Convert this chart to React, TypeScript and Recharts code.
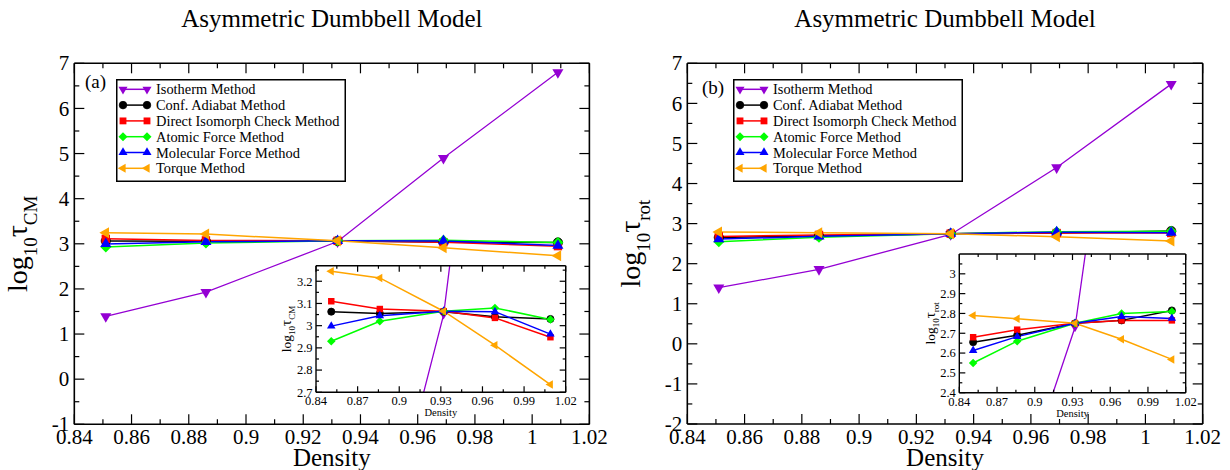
import React from 'react';
import { LineChart, Line, XAxis, YAxis, Legend } from 'recharts';

const FONT = '"Liberation Serif", "Times New Roman", serif';

// densities shared by every series
const density = [0.851, 0.886, 0.932, 0.969, 1.009];

// panel (a): log10 tau_CM
const cmIsotherm = [1.39, 1.93, 3.05, 4.9, 6.8];
const cmAdiabat = [3.063, 3.055, 3.063, 3.04, 3.03];
const cmDirect = [3.11, 3.075, 3.065, 3.035, 2.948];
const cmAtomic = [2.93, 3.02, 3.065, 3.08, 3.028];
const cmMolecular = [2.998, 3.045, 3.065, 3.063, 2.962];
const cmTorque = [3.245, 3.215, 3.065, 2.912, 2.735];

// panel (b): log10 tau_rot
const rotIsotherm = [1.4, 1.86, 2.73, 4.4, 6.48];
const rotAdiabat = [2.655, 2.69, 2.75, 2.765, 2.815];
const rotDirect = [2.68, 2.718, 2.75, 2.765, 2.765];
const rotAtomic = [2.55, 2.66, 2.75, 2.8, 2.81];
const rotMolecular = [2.613, 2.683, 2.75, 2.785, 2.775];
const rotTorque = [2.79, 2.773, 2.75, 2.67, 2.568];

const seriesKeys = ['iso', 'adi', 'dir', 'ato', 'mol', 'tor'];
const seriesNames = [
  'Isotherm Method',
  'Conf. Adiabat Method',
  'Direct Isomorph Check Method',
  'Atomic Force Method',
  'Molecular Force Method',
  'Torque Method',
];
const seriesColors = ['#9400D3', '#000000', '#FF0000', '#00FF00', '#0000FF', '#FFA500'];
const seriesShapes = ['down', 'circle', 'square', 'diamond', 'up', 'left'];

// ticks
const mainXMajor = [0.84, 0.86, 0.88, 0.9, 0.92, 0.94, 0.96, 0.98, 1, 1.02];
const mainXMinor = [0.85, 0.87, 0.89, 0.91, 0.93, 0.95, 0.97, 0.99, 1.01];
const cmYMajor = [-1, 0, 1, 2, 3, 4, 5, 6, 7];
const cmYMinor = [-0.5, 0.5, 1.5, 2.5, 3.5, 4.5, 5.5, 6.5];
const rotYMajor = [-2, -1, 0, 1, 2, 3, 4, 5, 6, 7];
const rotYMinor = [-1.5, -0.5, 0.5, 1.5, 2.5, 3.5, 4.5, 5.5, 6.5];
const insetXMajor = [0.84, 0.87, 0.9, 0.93, 0.96, 0.99, 1.02];
const insetXMinor = [0.855, 0.885, 0.915, 0.945, 0.975, 1.005];
const insetCmYMajor = [2.7, 2.8, 2.9, 3, 3.1, 3.2];
const insetCmYMinor = [2.75, 2.85, 2.95, 3.05, 3.15, 3.25];
const insetRotYMajor = [2.4, 2.5, 2.6, 2.7, 2.8, 2.9, 3];
const insetRotYMinor = [2.45, 2.55, 2.65, 2.75, 2.85, 2.95, 3.05];

function buildRows(values: number[][]) {
  return density.map((d, i) => {
    const row: Record<string, number> = { d };
    seriesKeys.forEach((k, j) => {
      row[k] = values[j][i];
    });
    return row;
  });
}

const cmRows = buildRows([cmIsotherm, cmAdiabat, cmDirect, cmAtomic, cmMolecular, cmTorque]);
const rotRows = buildRows([rotIsotherm, rotAdiabat, rotDirect, rotAtomic, rotMolecular, rotTorque]);

const fmt = (v: number) => String(Math.round(v * 1000) / 1000);

function Marker({ shape, cx, cy, size, color }: any) {
  if (cx == null || cy == null) return null;
  if (shape === 'circle') {
    return <circle cx={cx} cy={cy} r={size * 0.42} fill={color} stroke={color} strokeWidth={0.8} />;
  }
  if (shape === 'square') {
    const h = size * 0.38;
    return <rect x={cx - h} y={cy - h} width={2 * h} height={2 * h} fill={color} />;
  }
  if (shape === 'diamond') {
    const h = size * 0.5;
    return <polygon points={`${cx},${cy - h} ${cx + h},${cy} ${cx},${cy + h} ${cx - h},${cy}`} fill={color} />;
  }
  const a0 = shape === 'up' ? -90 : shape === 'down' ? 90 : 180;
  const R = size * 0.58;
  const pts = [0, 120, 240]
    .map((da) => {
      const a = ((a0 + da) * Math.PI) / 180;
      return `${cx + R * Math.cos(a)},${cy + R * Math.sin(a)}`;
    })
    .join(' ');
  return <polygon points={pts} fill={color} />;
}

function tickFn(side: string, majors: number[], major: number, minor: number, font = 0, gap = 0) {
  return (p: any) => {
    const v = p.payload.value;
    const isMajor = majors.some((m) => Math.abs(m - v) < 1e-9);
    const len = isMajor ? major : minor;
    const { x, y } = p;
    let x2 = x;
    let y2 = y;
    if (side === 'bottom') y2 = y - len;
    else if (side === 'top') y2 = y + len;
    else if (side === 'left') x2 = x + len;
    else x2 = x - len;
    const label = font && isMajor ? fmt(v) : null;
    return (
      <g>
        <line x1={x} y1={y} x2={x2} y2={y2} stroke="#000" strokeWidth={1.2} />
        {label && side === 'bottom' && (
          <text x={x} y={y + gap} textAnchor="middle" fontSize={font} fontFamily={FONT} fill="#000">
            {label}
          </text>
        )}
        {label && side === 'left' && (
          <text x={x - gap} y={y + font * 0.34} textAnchor="end" fontSize={font} fontFamily={FONT} fill="#000">
            {label}
          </text>
        )}
      </g>
    );
  };
}

// axes are kept (almost) zero-sized so the chart margin alone sets the plot box
const THIN = 0.01;

function frame(cfg: any) {
  const { xMajor, xMinor, yMajor, yMinor, yDomain, major, minor, font, xGap, yGap, sw } = cfg;
  const xTicks = [...xMajor, ...xMinor];
  const yTicks = [...yMajor, ...yMinor];
  const line = { stroke: '#000', strokeWidth: sw };
  const xDomain = [0.84, 1.02];
  return [
    <XAxis key="xb" xAxisId={0} dataKey="d" type="number" domain={xDomain} allowDataOverflow ticks={xTicks}
      interval={0} height={THIN} tickLine={false} tickSize={0} tickMargin={0} axisLine={line}
      tick={tickFn('bottom', xMajor, major, minor, font, xGap)} />,
    <XAxis key="xt" xAxisId="top" orientation="top" dataKey="d" type="number" domain={xDomain} allowDataOverflow
      ticks={xTicks} interval={0} height={THIN} tickLine={false} tickSize={0} tickMargin={0} axisLine={line}
      tick={tickFn('top', xMajor, major, minor)} />,
    <YAxis key="yl" yAxisId={0} type="number" domain={yDomain} allowDataOverflow ticks={yTicks} interval={0}
      width={THIN} tickLine={false} tickSize={0} tickMargin={0} axisLine={line}
      tick={tickFn('left', yMajor, major, minor, font, yGap)} />,
    <YAxis key="yr" yAxisId="right" orientation="right" type="number" domain={yDomain} allowDataOverflow
      ticks={yTicks} interval={0} width={THIN} tickLine={false} tickSize={0} tickMargin={0} axisLine={line}
      tick={tickFn('right', yMajor, major, minor)} />,
  ];
}

function seriesLines(size: number) {
  return seriesKeys.map((k, i) => (
    <Line
      key={k}
      xAxisId={0}
      yAxisId={0}
      type="linear"
      dataKey={k}
      name={seriesNames[i]}
      stroke={seriesColors[i]}
      strokeWidth={i === 0 ? 1.3 : 1.5}
      isAnimationActive={false}
      activeDot={false}
      dot={(p: any) => (
        <Marker key={`${k}-${p.index}`} shape={seriesShapes[i]} cx={p.cx} cy={p.cy} size={size} color={seriesColors[i]} />
      )}
    />
  ));
}

function LegendBox({ payload }: any) {
  const items = [...(payload || [])].sort(
    (a: any, b: any) => seriesKeys.indexOf(a.dataKey) - seriesKeys.indexOf(b.dataKey),
  );
  return (
    <svg width={230} height={103} style={{ display: 'block' }}>
      <rect x={0.75} y={0.75} width={228.5} height={101.5} fill="#fff" stroke="#000" strokeWidth={1.5} />
      {items.map((p: any, i: number) => {
        const idx = seriesKeys.indexOf(p.dataKey);
        const cy = 10.3 + i * 15.8;
        const color = seriesColors[idx];
        return (
          <g key={p.dataKey}>
            <line x1={7} y1={cy} x2={31} y2={cy} stroke={color} strokeWidth={1.5} />
            <Marker shape={seriesShapes[idx]} cx={7} cy={cy} size={9} color={color} />
            <Marker shape={seriesShapes[idx]} cx={31} cy={cy} size={9} color={color} />
            <text x={40} y={cy + 5} fontSize={14.4} fontFamily={FONT} fill="#000">
              {p.value}
            </text>
          </g>
        );
      })}
    </svg>
  );
}

function LogLabel({ x, y, sub, big, small, tau, dy }: any) {
  return (
    <text transform={`translate(${x},${y}) rotate(-90)`} textAnchor="middle" fontFamily={FONT} fill="#000">
      <tspan fontSize={big}>log</tspan>
      <tspan fontSize={small} dy={dy}>10</tspan>
      <tspan fontSize={tau} dy={-dy}>τ</tspan>
      <tspan fontSize={small} dy={dy}>{sub}</tspan>
    </text>
  );
}

function MainPanel({ rows, width, margin, yMajor, yMinor, yDomain, tag, tagPos, legendLeft, sub, labelX }: any) {
  const W = width;
  const H = 470;
  const cx = margin.left + (W - margin.left - margin.right) / 2;
  const cy = margin.top + (H - margin.top - margin.bottom) / 2;
  return (
    <LineChart width={W} height={H} data={rows} margin={margin}>
      {frame({ xMajor: mainXMajor, xMinor: mainXMinor, yMajor, yMinor, yDomain, major: 10, minor: 5, font: 21, xGap: 20, yGap: 5, sw: 1.6 })}
      {seriesLines(11)}
      <Legend
        layout="vertical"
        verticalAlign="middle"
        align="center"
        wrapperStyle={{ left: legendLeft, top: 79, width: 230, height: 103, lineHeight: 0 }}
        content={(p: any) => <LegendBox payload={p.payload} />}
      />
      <text x={cx} y={27} textAnchor="middle" fontSize={25} fontFamily={FONT} fill="#000">
        Asymmetric Dumbbell Model
      </text>
      <text x={tagPos[0]} y={tagPos[1]} fontSize={19} fontFamily={FONT} fill="#000">
        {tag}
      </text>
      <text x={cx} y={466} textAnchor="middle" fontSize={25} fontFamily={FONT} fill="#000">
        Density
      </text>
      <LogLabel x={labelX} y={cy} sub={sub} big={28} small={19} tau={30} dy={10} />
    </LineChart>
  );
}

function InsetPanel({ rows, width, height, margin, yMajor, yMinor, yDomain, sub, labelX, labelBase }: any) {
  const cx = margin.left + (width - margin.left - margin.right) / 2;
  const cy = margin.top + (height - margin.top - margin.bottom) / 2;
  return (
    <LineChart width={width} height={height} data={rows} margin={margin}>
      {frame({ xMajor: insetXMajor, xMinor: insetXMinor, yMajor, yMinor, yDomain, major: 6, minor: 3, font: 12.5, xGap: 13, yGap: 3.5, sw: 1.4 })}
      {seriesLines(8.5)}
      <text x={cx} y={labelBase} textAnchor="middle" fontSize={10.5} fontFamily={FONT} fill="#000">
        Density
      </text>
      <LogLabel x={labelX} y={cy} sub={sub} big={13.5} small={9} tau={15} dy={4} />
    </LineChart>
  );
}

export default function App() {
  return (
    <div style={{ position: 'absolute', left: 0, top: 0, width: 1230, height: 470, background: '#fff', overflow: 'hidden' }}>
      <div style={{ position: 'absolute', left: 0, top: 0 }}>
        <MainPanel
          rows={cmRows}
          width={615}
          margin={{ top: 63.3, right: 25.6, bottom: 45.7, left: 74.3 }}
          yMajor={cmYMajor}
          yMinor={cmYMinor}
          yDomain={[-1, 7]}
          tag="(a)"
          tagPos={[85, 88]}
          legendLeft={115.7}
          sub="CM"
          labelX={27}
        />
      </div>
      <div style={{ position: 'absolute', left: 600, top: 0 }}>
        <MainPanel
          rows={rotRows}
          width={630}
          margin={{ top: 63.3, right: 27.3, bottom: 46, left: 87.3 }}
          yMajor={rotYMajor}
          yMinor={rotYMinor}
          yDomain={[-2, 7]}
          tag="(b)"
          tagPos={[102, 94]}
          legendLeft={133}
          sub="rot"
          labelX={40}
        />
      </div>
      <div style={{ position: 'absolute', left: 270, top: 255 }}>
        <InsetPanel
          rows={cmRows}
          width={315}
          height={172}
          margin={{ top: 10.7, right: 19.3, bottom: 34.7, left: 46 }}
          yMajor={insetCmYMajor}
          yMinor={insetCmYMinor}
          yDomain={[2.7, 3.27]}
          sub="CM"
          labelX={21}
          labelBase={161}
        />
      </div>
      <div style={{ position: 'absolute', left: 905, top: 244 }}>
        <InsetPanel
          rows={rotRows}
          width={300}
          height={182}
          margin={{ top: 10, right: 19.3, bottom: 33.3, left: 54.3 }}
          yMajor={insetRotYMajor}
          yMinor={insetRotYMinor}
          yDomain={[2.4, 3.1]}
          sub="rot"
          labelX={30}
          labelBase={173}
        />
      </div>
    </div>
  );
}
